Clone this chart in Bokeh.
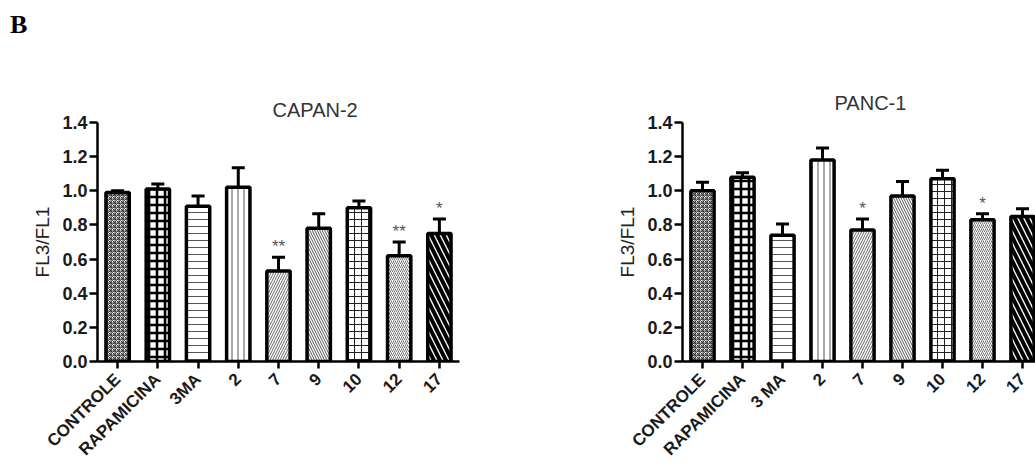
import math
from bokeh.plotting import figure
from bokeh.models import (Range1d, FixedTicker, PrintfTickFormatter, Whisker,
                          ColumnDataSource, Title, TeeHead, Div)
from bokeh.layouts import row, column
from bokeh.embed import file_html
from bokeh.resources import INLINE
from bokeh.core.properties import value

# ---------------- data ----------------
capan_categories = ["CONTROLE", "RAPAMICINA", "3MA", "2", "7", "9", "10", "12", "17"]
capan_values = [0.99, 1.01, 0.91, 1.02, 0.53, 0.78, 0.90, 0.62, 0.75]
capan_errors = [0.01, 0.03, 0.06, 0.115, 0.08, 0.085, 0.04, 0.08, 0.085]
capan_stars = ["", "", "", "", "**", "", "", "**", "*"]

panc_categories = ["CONTROLE", "RAPAMICINA", "3 MA", "2", "7", "9", "10", "12", "17"]
panc_values = [1.00, 1.08, 0.74, 1.18, 0.77, 0.97, 1.07, 0.83, 0.85]
panc_errors = [0.05, 0.025, 0.065, 0.07, 0.065, 0.085, 0.05, 0.035, 0.045]
panc_stars = ["", "", "", "", "*", "", "", "*", ""]

y_ticks = [0.0, 0.2, 0.4, 0.6, 0.8, 1.0, 1.2, 1.4]

# ---------------- styles ----------------
hatch_patterns = ["criss_cross", "cross", "horizontal_line", "vertical_line",
                  "right_diagonal_line", "left_diagonal_line", "cross",
                  "right_diagonal_line", "left_diagonal_line"]
hatch_scales = [4, 8, 7, 6, 5, 5, 7, 4, 12]
hatch_weights = [1, 2.6, 1, 1, 1, 1, 1, 1, 4]
hatch_colors = ["#333333", "#000000", "#555555", "#555555", "#666666",
                "#555555", "#222222", "#777777", "#000000"]

FONT = "Liberation Sans"
TOP_DIV = 40


def make_panel(categories, values, errors, stars, title, title_offset,
               title_standoff, width, border_left, border_right, x_end):
    n = len(categories)
    xs = list(range(n))
    src = ColumnDataSource(dict(
        x=xs, value=values, upper=[v + e for v, e in zip(values, errors)],
        stars=stars, hp=hatch_patterns, hs=hatch_scales, hw=hatch_weights,
        hc=hatch_colors))

    p = figure(width=width, height=468 - TOP_DIV, output_backend="svg",
               toolbar_location=None, x_range=Range1d(-0.5, x_end),
               y_range=Range1d(0, 1.4), min_border_left=border_left,
               min_border_right=border_right, min_border_top=122 - TOP_DIV,
               min_border_bottom=105)
    p.outline_line_color = None
    p.grid.visible = False
    p.background_fill_color = "white"
    p.border_fill_color = "white"

    p.vbar(x="x", top="value", bottom=0, width=0.58, source=src,
           fill_color="white", line_color="black", line_width=3.5,
           hatch_pattern="hp", hatch_scale="hs", hatch_weight="hw",
           hatch_color="hc")

    wh = Whisker(base="x", upper="upper", lower="value", source=src,
                 line_width=3, line_color="black",
                 upper_head=TeeHead(size=13, line_width=3, line_color="black"),
                 lower_head=None, level="overlay")
    p.add_layout(wh)

    p.text(x="x", y="upper", text="stars", source=src, text_align="center",
           text_baseline="bottom", text_font_size="17px", text_color="#555555",
           text_font=value(FONT), y_offset=-1)

    # axes
    p.xaxis.ticker = FixedTicker(ticks=xs)
    p.xaxis.major_label_overrides = {i: c for i, c in enumerate(categories)}
    p.xaxis.major_label_orientation = math.pi / 4
    p.yaxis.ticker = FixedTicker(ticks=y_ticks)
    p.yaxis.formatter = PrintfTickFormatter(format="%.1f")
    for ax in (p.xaxis[0], p.yaxis[0]):
        ax.axis_line_width = 2.5
        ax.axis_line_color = "black"
        ax.major_tick_line_width = 2.5
        ax.major_tick_line_color = "black"
        ax.minor_tick_line_color = None
        ax.major_tick_in = 0
        ax.major_label_text_font = FONT
        ax.major_label_text_font_style = "bold"
        ax.major_label_text_color = "#1a1a1a"
    p.yaxis.major_label_text_font_size = "18px"
    p.xaxis.major_label_text_font_size = "17px"
    p.xaxis.major_tick_out = 7
    p.xaxis.major_label_standoff = 8
    p.yaxis.major_tick_out = 8
    p.yaxis.major_label_standoff = 2
    p.yaxis.axis_label = "FL3/FL1"
    p.yaxis.axis_label_text_font = FONT
    p.yaxis.axis_label_text_font_style = "normal"
    p.yaxis.axis_label_text_font_size = "19px"
    p.yaxis.axis_label_text_color = "#222222"
    p.yaxis.axis_label_standoff = 6

    p.title = Title(text=title, align="left", offset=title_offset,
                    standoff=title_standoff, vertical_align="bottom",
                    text_baseline="alphabetic", text_font=FONT,
                    text_font_style="normal", text_font_size="20px",
                    text_color="#333333")
    return p


b_div = Div(text="B", width=1035, height=TOP_DIV,
            styles={"font-family": "Liberation Serif", "font-weight": "bold",
                    "font-size": "26px", "line-height": "26px",
                    "padding-left": "10px", "padding-top": "12px",
                    "color": "black", "margin": "0"})

p1 = make_panel(capan_categories, capan_values, capan_errors, capan_stars,
                "CAPAN-2", 175, 4, 520, 97, 61, 8.5)
p2 = make_panel(panc_categories, panc_values, panc_errors, panc_stars,
                "PANC-1", 152, 18, 515, 162, 0, 8.325)

layout = column(b_div, row(p1, p2, spacing=0), spacing=0)
open("out.html", "w").write(file_html(layout, INLINE))
